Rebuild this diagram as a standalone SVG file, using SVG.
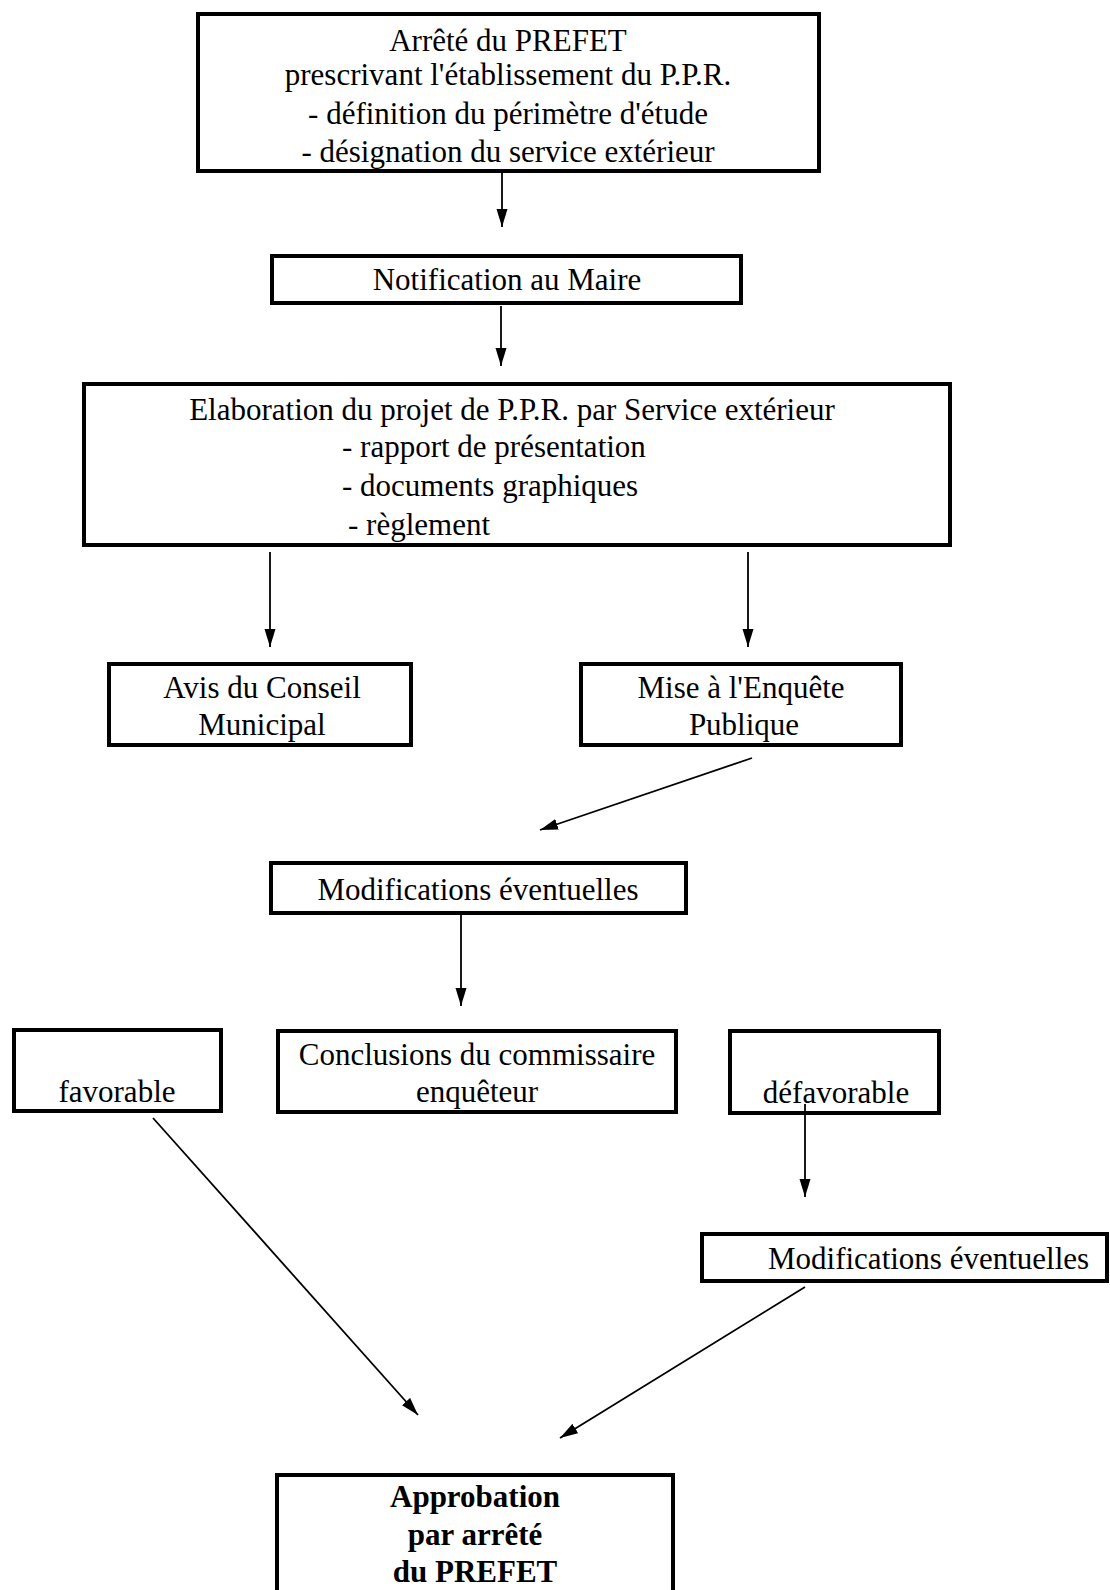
<svg xmlns="http://www.w3.org/2000/svg" width="1110" height="1590" viewBox="0 0 1110 1590">
<defs>
<marker id="ah" markerUnits="userSpaceOnUse" markerWidth="19" markerHeight="12" refX="18" refY="5.5" orient="auto">
<path d="M0,0 L18,5.5 L0,11 z" fill="#000"/>
</marker>
<style>
.box{fill:#fff;stroke:#000;stroke-width:4}
.t{font-family:"Liberation Serif","Times New Roman",serif;font-size:31px;fill:#000}
.c{text-anchor:middle}
.b{font-weight:bold}
.ln{stroke:#000;stroke-width:1.8;fill:none;marker-end:url(#ah)}
</style>
</defs>
<rect width="1110" height="1590" fill="#fff"/>
<g id="n1">
<rect class="box" x="198" y="14" width="621" height="157"/>
<text class="t c" x="508" y="51">Arrêté du PREFET</text>
<text class="t c" x="508" y="85">prescrivant l'établissement du P.P.R.</text>
<text class="t c" x="508" y="124">- définition du périmètre d'étude</text>
<text class="t c" x="508" y="162">- désignation du service extérieur</text>
</g>
<g id="n2">
<rect class="box" x="272" y="256" width="469" height="47"/>
<text class="t c" x="507" y="290">Notification au Maire</text>
</g>
<g id="n3">
<rect class="box" x="84" y="384" width="866" height="161"/>
<text class="t c" x="512" y="420">Elaboration du projet de P.P.R. par Service extérieur</text>
<text class="t" x="342" y="457">- rapport de présentation</text>
<text class="t" x="342" y="496">- documents graphiques</text>
<text class="t" x="348" y="535">- règlement</text>
</g>
<g id="n4">
<rect class="box" x="109" y="664" width="302" height="81"/>
<text class="t c" x="262" y="698">Avis du Conseil</text>
<text class="t c" x="262" y="735">Municipal</text>
</g>
<g id="n5">
<rect class="box" x="581" y="664" width="320" height="81"/>
<text class="t c" x="741" y="698">Mise à l'Enquête</text>
<text class="t c" x="744" y="735">Publique</text>
</g>
<g id="n6">
<rect class="box" x="271" y="863" width="415" height="50"/>
<text class="t c" x="478" y="900">Modifications éventuelles</text>
</g>
<g id="n7">
<rect class="box" x="14" y="1030" width="207" height="81"/>
<text class="t c" x="117" y="1102">favorable</text>
</g>
<g id="n8">
<rect class="box" x="278" y="1031" width="398" height="81"/>
<text class="t c" x="477" y="1065">Conclusions du commissaire</text>
<text class="t c" x="477" y="1102">enquêteur</text>
</g>
<g id="n9">
<rect class="box" x="730" y="1031" width="209" height="82"/>
<text class="t c" x="836" y="1103">défavorable</text>
</g>
<g id="n10">
<rect class="box" x="702" y="1234" width="405" height="47"/>
<text class="t" x="768" y="1269">Modifications éventuelles</text>
</g>
<g id="n11">
<rect class="box" x="277" y="1475" width="396" height="125"/>
<text class="t c b" x="475" y="1507">Approbation</text>
<text class="t c b" x="475" y="1545">par arrêté</text>
<text class="t c b" x="475" y="1582">du PREFET</text>
</g>
<g id="connectors">
<line class="ln" x1="502" y1="173" x2="502" y2="227"/>
<line class="ln" x1="501" y1="306" x2="501" y2="366"/>
<line class="ln" x1="270" y1="552" x2="270" y2="647"/>
<line class="ln" x1="748" y1="552" x2="748" y2="647"/>
<line class="ln" x1="752" y1="758" x2="540" y2="830"/>
<line class="ln" x1="461" y1="915" x2="461" y2="1006"/>
<line class="ln" x1="153" y1="1118" x2="418" y2="1415"/>
<line class="ln" x1="805" y1="1104" x2="805" y2="1197"/>
<line class="ln" x1="805" y1="1287" x2="560" y2="1438"/>
</g>
</svg>
